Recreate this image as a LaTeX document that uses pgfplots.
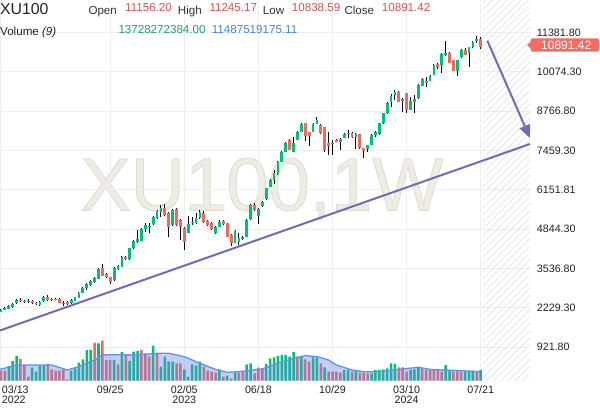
\documentclass[border=0pt]{standalone}
\usepackage{fontspec}
\setmainfont{Liberation Sans}
\usepackage{pgfplots}
\pgfplotsset{compat=1.18}
\usepackage{pgfplotstable}
\usetikzlibrary{patterns.meta, arrows.meta}

\definecolor{cgreen}{RGB}{0,192,118}
\definecolor{cred}{RGB}{240,104,94}
\definecolor{tagred}{RGB}{242,108,98}
\definecolor{trend}{RGB}{108,108,186}
\definecolor{gridc}{RGB}{238,238,238}
\definecolor{wm}{RGB}{239,236,227}
\definecolor{mafill}{RGB}{97,137,227}
\definecolor{maline}{RGB}{100,145,230}
\definecolor{valred}{RGB}{214,82,78}
\definecolor{volgreen}{RGB}{24,165,100}
\definecolor{volblue}{RGB}{70,130,230}
\definecolor{txt}{RGB}{34,34,34}
\definecolor{lbl}{RGB}{51,51,51}

% i = week index (0 = 2022-03-13), O H L C = price, V = volume (billions), U = volume bar colour (1 up)
\pgfplotstableread{
i O H L C V U
0 2090 2173 2073 2156 12.9 0
1 2156 2240 2140 2223 12.9 0
2 2190 2306 2173 2289 18.9 1
3 2240 2373 2223 2356 25.4 1
4 2373 2506 2356 2489 31.8 1
5 2496 2546 2422 2439 28.0 0
6 2456 2489 2389 2406 20.2 0
7 2429 2506 2389 2456 5.2 0
8 2466 2489 2356 2379 16.8 1
9 2399 2422 2339 2356 11.6 1
10 2313 2456 2289 2432 18.9 1
11 2446 2622 2422 2599 20.2 1
12 2599 2655 2472 2489 21.9 0
13 2522 2539 2456 2489 14.6 0
14 2506 2556 2489 2522 12.9 0
15 2522 2539 2389 2399 12.9 0
16 2373 2456 2289 2396 14.6 0
17 2432 2439 2339 2356 1.7 0
18 2379 2522 2356 2499 12.9 1
19 2466 2595 2456 2579 15.9 1
20 2565 2755 2556 2732 23.2 1
21 2732 2905 2722 2878 27.5 1
22 2872 3038 2822 3011 39.6 1
23 2978 3154 2955 3131 39.6 1
24 3078 3254 3055 3221 49.0 0
25 3198 3537 3188 3510 48.2 1
26 3537 3687 3271 3288 51.6 0
27 3364 3387 3221 3244 26.7 0
28 3244 3264 3011 3098 26.7 0
29 3154 3587 3121 3564 26.7 1
30 3520 3653 3487 3620 21.1 0
31 3597 3953 3587 3930 37.0 1
32 3930 3953 3820 3843 33.1 0
33 3843 4219 3820 4209 25.4 1
34 4209 4485 4186 4452 37.4 1
35 4429 4818 4375 4518 38.3 1
36 4462 4868 4452 4841 39.6 0
37 4841 5061 4761 4984 35.3 0
38 4908 5041 4708 4951 31.0 0
39 5017 5267 4984 5240 45.2 1
40 5207 5483 5184 5460 35.3 0
41 5427 5650 5260 5540 18.1 1
42 5540 5683 5300 5317 31.0 1
43 5393 5417 4575 4928 24.5 1
44 4984 5517 4951 5483 24.5 1
45 5517 5550 4951 4984 22.4 0
46 5151 5184 4485 4928 22.4 0
47 4894 4918 4153 4429 14.6 1
48 4728 5284 4702 5008 5.2 1
49 5061 5260 4984 5094 21.1 1
50 5041 5374 5017 5227 19.4 1
51 5207 5483 5184 5427 24.5 1
52 5393 5450 5067 5094 18.1 0
53 5117 5151 4951 4984 12.9 0
54 5061 5084 4818 4841 11.6 0
55 4728 4951 4685 4928 10.3 0
56 4928 5151 4901 5094 14.6 1
57 5117 5151 4984 5001 5.2 0
58 5041 5051 4585 4595 6.5 1
59 4652 4668 4286 4375 3.0 0
60 4395 4818 4369 4795 10.3 1
61 4429 4708 4319 4552 10.3 0
62 4509 4618 4485 4595 11.6 0
63 4595 5167 4585 5151 21.1 1
64 5174 5666 5151 5650 22.4 1
65 5650 5716 5450 5483 9.5 0
66 5284 5533 5017 5517 16.8 0
67 5616 5783 5583 5759 15.9 0
68 5839 6215 5816 6205 21.5 1
69 6239 6498 6232 6481 28.8 1
70 6481 6814 6348 6724 30.1 1
71 6681 7114 6664 7090 31.8 1
72 7090 7446 7080 7423 33.1 1
73 7423 7746 7413 7722 33.1 1
74 7812 7846 7463 7480 31.0 1
75 7423 7902 7413 7722 37.0 1
76 7812 8095 7796 8068 31.0 0
77 8088 8361 8078 8345 31.8 1
78 8368 8378 7789 7945 27.5 0
79 8068 8078 7623 7945 24.5 0
80 8088 8361 8078 8345 30.1 1
81 8345 8587 8328 8478 30.1 1
82 8311 8328 8012 8035 22.4 0
83 8235 8245 7423 7480 17.2 1
84 7722 8088 7313 7613 11.6 0
85 7669 7812 7313 7722 11.6 0
86 7812 7829 7729 7746 11.6 0
87 7756 7879 7480 7846 10.3 0
88 7889 8029 7862 8002 13.8 1
89 8045 8145 7869 7995 13.8 1
90 8055 8078 7879 7902 11.6 0
91 7902 8029 7503 8012 12.9 1
92 8002 8012 7513 7536 10.3 0
93 7536 7546 7203 7446 10.3 0
94 7523 7662 7413 7646 9.5 0
95 7646 7995 7629 7979 9.5 1
96 7979 8122 7922 8088 13.8 1
97 8002 8378 7979 8368 13.8 1
98 8368 8710 8345 8700 14.6 1
99 8700 9076 8677 9053 15.9 1
100 9086 9333 8920 9276 22.4 1
101 9309 9476 9143 9419 21.5 1
102 9419 9452 9076 9086 17.2 0
103 9110 9193 8754 9176 17.2 0
104 9366 9376 8720 8810 11.6 0
105 8810 9243 8794 9120 13.8 1
106 9086 9309 8720 9166 14.6 1
107 9200 9659 9176 9642 18.1 1
108 9619 9858 9609 9842 15.9 0
109 9785 9918 9566 9699 13.8 0
110 9785 9975 9775 9952 14.6 0
111 9975 10324 9958 10307 14.6 0
112 10331 10364 10164 10231 14.6 0
113 10307 10690 10031 10673 11.6 0
114 10630 11106 10607 10717 20.2 1
115 10717 10740 10364 10384 13.8 1
116 10474 10490 10108 10118 11.6 0
117 10118 10490 9952 10474 12.9 0
118 10564 10823 10540 10807 11.6 0
119 10807 10863 10624 10640 12.9 1
120 10717 10906 10251 10896 12.9 1
121 10896 11089 10873 11073 12.9 1
122 11106 11272 11049 11156 11.6 0
123 11156.20 11245.17 10838.59 10891.42 13.73 1
}\candles

% 9-week moving average of volume (billions)
\pgfplotstableread{
i M
-0.25 14.6
4 20.2
13 20.2
17 13.8
20 18.1
24 26.7
26 33.1
29 33.5
35 33.1
40 35.3
43 35.3
47 31.0
51 22.4
55 14.6
58 10.8
61 11.6
63 12.9
67 15.1
71 22.4
75 28.8
78 32.3
81 31.0
84 26.7
86 20.2
90 13.8
93 11.6
97 11.6
102 14.6
107 17.2
110 14.6
118 12.9
123 11.49
}\mavol

\tikzset{
  xl/.style={anchor=north, align=center, inner sep=0pt, yshift=-5pt,
    font=\fontsize{10.7}{10}\selectfont, text=txt},
}

\begin{document}
\begin{tikzpicture}[x=1pt,y=1pt]
\useasboundingbox (0,0) rectangle (600,408);
\pgfplotsset{
  base/.style={at={(0pt,27.3pt)}, anchor=south west, scale only axis,
    width=530pt, height=380.7pt, xmin=-0.256, xmax=135.64,
    axis line style={draw=none}, major tick length=0pt, tick style={draw=none}},
}
% ---- watermark (under the grid)
\node[text=wm, font=\fontsize{75}{75}\selectfont, inner sep=0pt] at (262,219)
  {\special{pdf:literal 2 Tr 0.8 w 0.875 0.855 0.8 RG}XU100,1W\special{pdf:literal 0 Tr}};
% ---- background: grid, tick labels, hatch
\begin{axis}[base, ymin=-196.2, ymax=12469.7, clip=false,
  xtick={0,28,47,66,85,104,123}, xticklabels={,,,,,,},
  ytick={921.8,2229.3,3536.8,4844.3,6151.81,7459.3,8766.8,10074.3,11381.8},
  yticklabels={921.80,2229.30,3536.80,4844.30,6151.81,7459.30,8766.80,10074.30,11381.80},
  yticklabel pos=right,
  yticklabel style={anchor=west, inner sep=0pt, xshift=6.7pt,
    font=\fontsize{10.7}{12}\selectfont, text=txt},
  grid=major, major grid style={gridc, line width=1pt}]
 \fill[pattern={Lines[angle=45,distance=5pt,line width=0.6pt]}, pattern color=gray!25]
   (axis cs:123.6,-196.2) rectangle (axis cs:135.64,12469.7);
 \node[xl, anchor=north west, align=left, xshift=0.7pt] at (axis cs:0,-196.2) {03/13\\2022};
 \node[xl] at (axis cs:28,-196.2) {09/25};
 \node[xl] at (axis cs:47,-196.2) {02/05\\2023};
 \node[xl] at (axis cs:66,-196.2) {06/18};
 \node[xl] at (axis cs:85,-196.2) {10/29};
 \node[xl] at (axis cs:104,-196.2) {03/10\\2024};
 \node[xl] at (axis cs:123,-196.2) {07/21};
\end{axis}
% ---- volume
\begin{axis}[base, ymin=0, ymax=490, hide axis]
 \addplot[ybar, bar width=2.5pt, /pgf/bar shift=0pt, fill=cgreen, draw=none,
   restrict expr to domain={\thisrow{U}}{0.5:1.5}] table[x=i, y=V] {\candles};
 \addplot[ybar, bar width=2.5pt, /pgf/bar shift=0pt, fill=cred, draw=none,
   restrict expr to domain={\thisrow{U}}{-0.5:0.5}] table[x=i, y=V] {\candles};
 \addplot[fill=mafill, fill opacity=0.4, draw=none] table[x=i, y=M] {\mavol} \closedcycle;
 \addplot[maline, line width=1.3pt] table[x=i, y=M] {\mavol};
\end{axis}
% ---- candles, trend line, arrow
\begin{axis}[base, ymin=-196.2, ymax=12469.7, hide axis, clip=false]
 \addplot[draw=none, error bars/.cd, y dir=plus, y explicit, error mark=none,
   error bar style={draw=black, line width=1pt}]
   table[x=i, y=L, y error expr=\thisrow{H}-\thisrow{L}] {\candles};
 \addplot[draw=none, restrict expr to domain={\thisrow{C}-\thisrow{O}}{0:100000},
   error bars/.cd, y dir=plus, y explicit, error mark=none,
   error bar style={draw=cgreen, line width=2.8pt}]
   table[x=i, y=O, y error expr=\thisrow{C}-\thisrow{O}] {\candles};
 \addplot[draw=none, restrict expr to domain={\thisrow{O}-\thisrow{C}}{0.001:100000},
   error bars/.cd, y dir=plus, y explicit, error mark=none,
   error bar style={draw=cred, line width=2.8pt}]
   table[x=i, y=C, y error expr=\thisrow{O}-\thisrow{C}] {\candles};
 \addplot[trend, line width=2pt] coordinates {(-0.256,1474) (135.64,7679)};
 \addplot[trend, line width=2pt, -{Triangle[length=13pt,width=11pt]}]
   coordinates {(124.7,11116) (135.64,7878)};
\end{axis}
% ---- header texts
\node[anchor=base west, inner sep=0pt, font=\fontsize{15.8}{16}\selectfont, text=txt] at (0,393) {XU100};
\begin{scope}[every node/.style={anchor=base west, inner sep=0pt, font=\fontsize{11.6}{12}\selectfont}]
\node[text=lbl] at (88.3,393) {Open};
\node[text=valred] at (125,396.3) {11156.20};
\node[text=lbl] at (177.7,393) {High};
\node[text=valred] at (209.3,396.3) {11245.17};
\node[text=lbl] at (262.7,393) {Low};
\node[text=valred] at (291.7,396.3) {10838.59};
\node[text=lbl] at (344.3,393) {Close};
\node[text=valred] at (381.7,396.3) {10891.42};
\node[text=txt] at (0,372.7) {Volume \textit{(9)}};
\node[text=volgreen] at (118.3,374) {13728272384.00};
\node[text=volblue] at (211.7,374) {11487519175.11};
\end{scope}
% ---- last price tag
\fill[tagred, rounded corners=2pt] (530.7,356.3) rectangle (599,369.7);
\fill[tagred] (527,363) -- (531.5,367) -- (531.5,359) -- cycle;
\node[text=white, inner sep=0pt, font=\fontsize{12}{12}\selectfont] at (566.2,363) {10891.42};
\end{tikzpicture}
\end{document}
